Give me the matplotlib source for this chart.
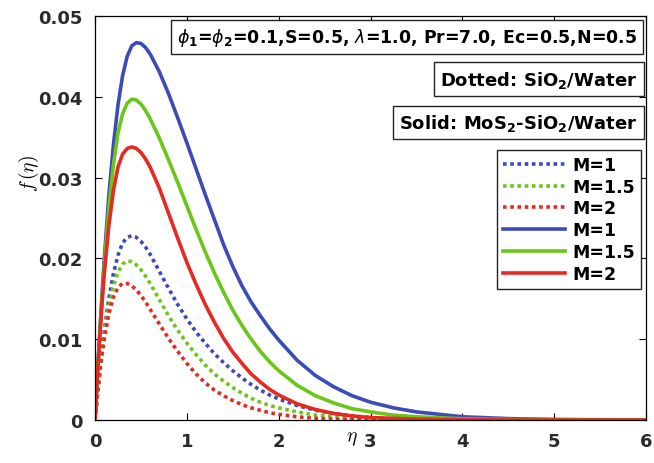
import matplotlib.pyplot as plt

# data
eta = [0, 0.025, 0.05, 0.075, 0.1, 0.15, 0.2, 0.25, 0.3, 0.35, 0.4, 0.45, 0.5, 0.55, 0.6,
       0.7, 0.8, 0.9, 1.0, 1.1, 1.2, 1.3, 1.4, 1.5, 1.6, 1.7, 1.8, 1.9, 2.0, 2.2, 2.4, 2.6,
       2.8, 3.0, 3.25, 3.5, 4.0, 4.5, 5.0, 5.5, 6.0]

# dotted: SiO2/Water
dot_m1 = [0, 0.0031, 0.0060, 0.0086, 0.0110, 0.0150, 0.0181, 0.0204, 0.0219, 0.0226, 0.0228,
          0.0226, 0.0221, 0.0214, 0.0205, 0.0184, 0.0163, 0.0143, 0.0125, 0.0109, 0.0095,
          0.0082, 0.0071, 0.0061, 0.0052, 0.0044, 0.0037, 0.0031, 0.0026, 0.0018, 0.0012,
          0.0008, 0.0005, 0.0003, 0.00015, 0.00008, 0.00002, 0, 0, 0, 0]
dot_m15 = [0, 0.0030, 0.0058, 0.0083, 0.0105, 0.0140, 0.0166, 0.0183, 0.0193, 0.0197, 0.0196,
           0.0192, 0.0186, 0.0178, 0.0169, 0.0149, 0.0129, 0.0111, 0.0095, 0.0081, 0.0068,
           0.0057, 0.0048, 0.0040, 0.0033, 0.0027, 0.0022, 0.0018, 0.0015, 0.0010, 0.0006,
           0.0004, 0.0002, 0.0001, 0.00005, 0.00002, 0, 0, 0, 0, 0]
dot_m2 = [0, 0.0029, 0.0056, 0.0080, 0.0100, 0.0131, 0.0152, 0.0164, 0.0169, 0.0169, 0.0166,
          0.0161, 0.0154, 0.0146, 0.0137, 0.0119, 0.0101, 0.0085, 0.0070, 0.0057, 0.0046,
          0.0037, 0.0030, 0.0024, 0.0019, 0.0015, 0.0012, 0.0009, 0.0007, 0.0004, 0.0002,
          0.0001, 0.00005, 0.00002, 0, 0, 0, 0, 0, 0, 0]

# solid: MoS2-SiO2/Water
sol_m1 = [0, 0.0054, 0.0105, 0.0153, 0.0198, 0.0277, 0.0340, 0.0390, 0.0426, 0.0450, 0.0463,
          0.0467, 0.0466, 0.0461, 0.0453, 0.0431, 0.0404, 0.0374, 0.0343, 0.0311, 0.0279,
          0.0248, 0.0217, 0.0190, 0.0166, 0.0146, 0.0129, 0.0113, 0.0099, 0.0074, 0.0055,
          0.0041, 0.0030, 0.0022, 0.0015, 0.0010, 0.0004, 0.00017, 0.00007, 0.00003, 0.00001]
sol_m15 = [0, 0.0053, 0.0102, 0.0148, 0.0190, 0.0261, 0.0316, 0.0355, 0.0379, 0.0392, 0.0397,
           0.0396, 0.0391, 0.0383, 0.0373, 0.0349, 0.0322, 0.0294, 0.0265, 0.0236, 0.0208,
           0.0182, 0.0158, 0.0136, 0.0117, 0.0100, 0.0085, 0.0072, 0.0061, 0.0043, 0.0030,
           0.0021, 0.0014, 0.0010, 0.0006, 0.0004, 0.00015, 0.00006, 0.00002, 0, 0]
sol_m2 = [0, 0.0052, 0.0100, 0.0142, 0.0180, 0.0240, 0.0284, 0.0313, 0.0329, 0.0336, 0.0338,
          0.0336, 0.0331, 0.0323, 0.0313, 0.0287, 0.0256, 0.0225, 0.0195, 0.0168, 0.0143,
          0.0121, 0.0101, 0.0084, 0.0070, 0.0057, 0.0047, 0.0038, 0.0031, 0.0020, 0.0013,
          0.0008, 0.0005, 0.0003, 0.0002, 0.0001, 0.00004, 0, 0, 0, 0]

labels = ['M=1', 'M=1.5', 'M=2', 'M=1', 'M=1.5', 'M=2']
colors = ['#3D4BB7', '#6CC619', '#E62A22']
x_ticks = [0, 1, 2, 3, 4, 5, 6]
y_ticks = [0, 0.01, 0.02, 0.03, 0.04, 0.05]
y_ticklabels = ['0', '0.01', '0.02', '0.03', '0.04', '0.05']

fig = plt.figure(figsize=(6.54, 4.64), dpi=100)
ax = fig.add_axes([0.1453, 0.0927, 0.8425, 0.8707])

for ys, c, lab in zip([dot_m1, dot_m15, dot_m2], colors, labels[:3]):
    ax.plot(eta, ys, linestyle=(0, (1, 1)), color=c, lw=2.6, label=lab)
for ys, c, lab in zip([sol_m1, sol_m15, sol_m2], colors, labels[3:]):
    ax.plot(eta, ys, '-', color=c, lw=2.6, label=lab)

ax.set_xlim(0, 6)
ax.set_ylim(0, 0.05)
ax.set_xticks(x_ticks)
ax.set_xticklabels([str(t) for t in x_ticks])
ax.set_yticks(y_ticks)
ax.set_yticklabels(y_ticklabels)
ax.tick_params(direction='in', top=True, right=True, length=5, width=0.8,
               labelsize=13, labelcolor='#2a2a2a', pad=9)
for lbl in ax.get_xticklabels() + ax.get_yticklabels():
    lbl.set_fontweight('bold')
for sp in ax.spines.values():
    sp.set_linewidth(0.9)

# axis labels
ax.text(0.467, -0.043, r'$\eta$', transform=ax.transAxes, ha='center', va='center',
        fontsize=14, math_fontfamily='cm')
ax.text(-0.12, 0.614, r'$f\,(\eta)$', transform=ax.transAxes, ha='center', va='center',
        rotation=90, fontsize=14, math_fontfamily='cm')

# text boxes
box = dict(boxstyle='square,pad=0.35', fc='white', ec='#222222', lw=1.0)
ax.text(0.984, 0.949,
        r'$\phi_{\mathbf{1}}$=$\phi_{\mathbf{2}}$=0.1,S=0.5, $\lambda$=1.0, Pr=7.0, Ec=0.5,N=0.5',
        transform=ax.transAxes, ha='right', va='center', fontsize=12.5, fontweight='bold',
        bbox=box)
ax.text(0.984, 0.844, r'Dotted: SiO$_{\mathbf{2}}$/Water', transform=ax.transAxes,
        ha='right', va='center', fontsize=13, fontweight='bold', bbox=box)
ax.text(0.984, 0.736, r'Solid: MoS$_{\mathbf{2}}$-SiO$_{\mathbf{2}}$/Water',
        transform=ax.transAxes, ha='right', va='center', fontsize=13, fontweight='bold',
        bbox=box)

leg = ax.legend(loc='upper right', bbox_to_anchor=(0.991, 0.669),
                prop={'weight': 'bold', 'size': 12.5}, handlelength=3.6, labelspacing=0.22,
                handletextpad=0.4, borderpad=0.35, fancybox=False, framealpha=1,
                edgecolor='#222222', borderaxespad=0)
leg.get_frame().set_linewidth(1.0)

fig.savefig('out.png', dpi=100)
